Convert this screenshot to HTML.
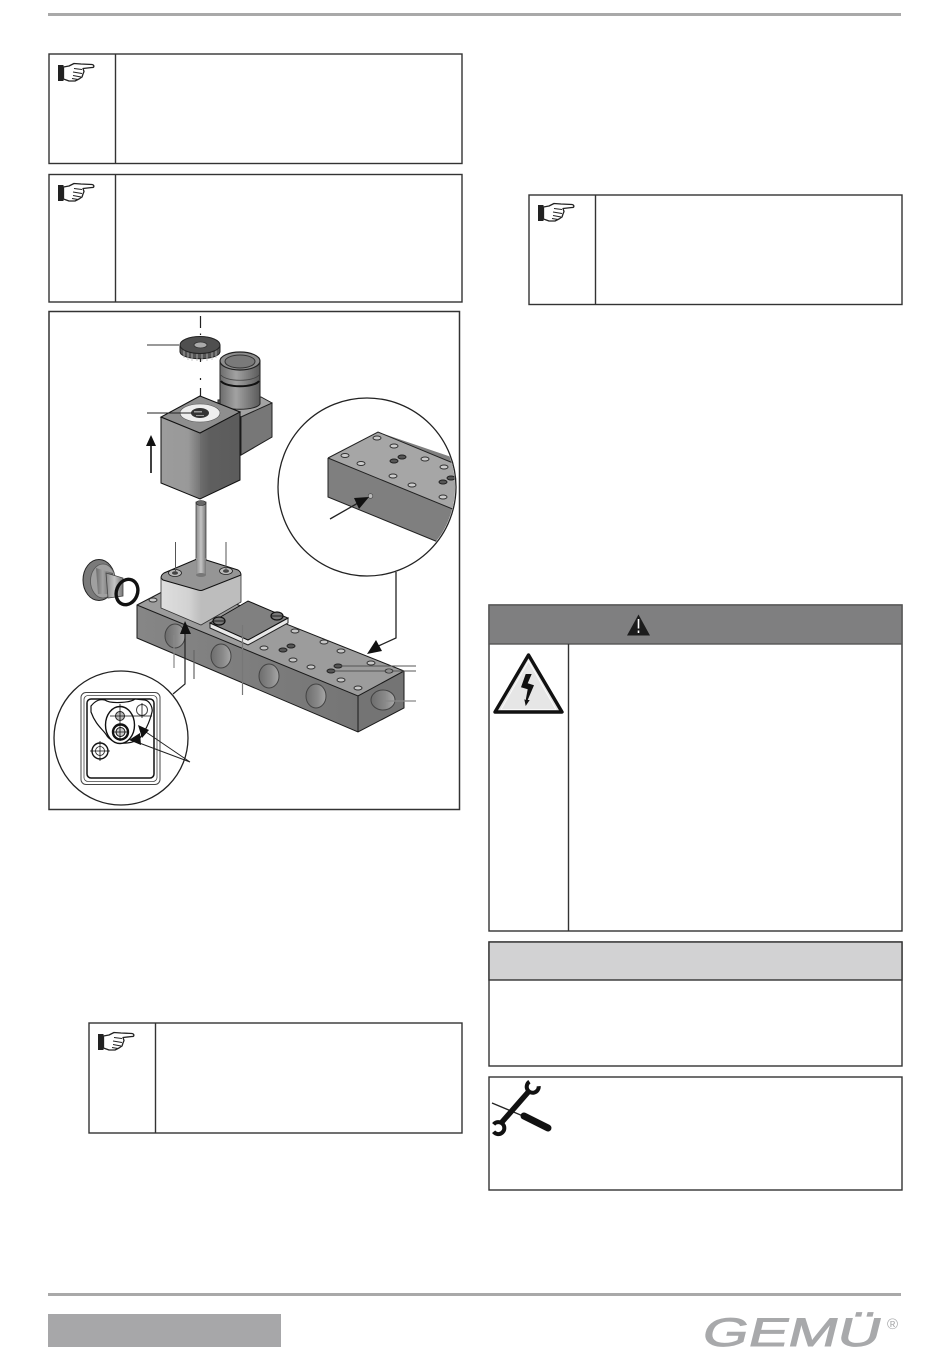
<!DOCTYPE html>
<html><head><meta charset="utf-8"><style>
html,body{margin:0;padding:0;background:#fff}
svg{display:block}
</style></head><body>
<svg xmlns="http://www.w3.org/2000/svg" width="950" height="1360" viewBox="0 0 950 1360">
<defs>
<linearGradient id="lf" x1="0" x2="1" y1="0" y2="0"><stop offset="0" stop-color="#9c9c9c"/><stop offset=".7" stop-color="#999"/><stop offset="1" stop-color="#767676"/></linearGradient>
<linearGradient id="rf" x1="0" x2="1" y1="0" y2="0"><stop offset="0" stop-color="#6e6e6e"/><stop offset=".25" stop-color="#5e5e5e"/><stop offset="1" stop-color="#5c5c5c"/></linearGradient>
<linearGradient id="cyl" x1="0" x2="1" y1="0" y2="0"><stop offset="0" stop-color="#6c6c6c"/><stop offset=".4" stop-color="#a2a2a2"/><stop offset="1" stop-color="#5a5a5a"/></linearGradient>
<linearGradient id="stem" x1="0" x2="1" y1="0" y2="0"><stop offset="0" stop-color="#8a8a8a"/><stop offset=".5" stop-color="#c4c4c4"/><stop offset="1" stop-color="#777"/></linearGradient>
<linearGradient id="lb" x1="0" x2="1" y1="0" y2="0"><stop offset="0" stop-color="#dedede"/><stop offset=".7" stop-color="#d2d2d2"/><stop offset="1" stop-color="#bdbdbd"/></linearGradient>
<linearGradient id="port" x1="0" x2="1" y1="0" y2="0"><stop offset="0" stop-color="#6d6d6d"/><stop offset=".6" stop-color="#8a8a8a"/><stop offset="1" stop-color="#a8a8a8"/></linearGradient>
<linearGradient id="side" x1="0" x2="1" y1="0" y2="0"><stop offset="0" stop-color="#868686"/><stop offset="1" stop-color="#757575"/></linearGradient>
<clipPath id="cu"><circle cx="367" cy="487" r="88"/></clipPath>
<g id="hand">
<path d="M11 16h5.500v16H11z" fill="#222"/>
<path d="M16.500 18L22 17L27 14.500L34 15L45 15.500C47.500 16 47.500 18.500 45 18.500L36 19.500L37 22.500L36 25L35 28L32 30L28 32L22 32L16.500 30Z" fill="#fff" stroke="#222" stroke-width="1.300" stroke-linejoin="round"/>
<path d="M27 19.500l8 1M26 23l9 1.500M26 26.500l8 1.500M25 29.500l6 1" stroke="#222" stroke-width="1" fill="none"/>
</g>
</defs>

<!-- page rules -->
<rect x="48" y="13" width="853" height="3" fill="#a9a9a9"/>
<rect x="48" y="1293" width="853" height="3" fill="#a9a9a9"/>
<rect x="48" y="1314" width="233" height="33" fill="#a7a7a9"/>

<!-- note boxes -->
<g fill="#fff" stroke="#333" stroke-width="1.400">
<rect x="49" y="54" width="413" height="109.500"/>
<path d="M115.500 54V163.500"/>
<rect x="49" y="174.500" width="413" height="127.500"/>
<path d="M115.500 174.500V302"/>
<rect x="529" y="195" width="373" height="109.500"/>
<path d="M595.500 195V304.500"/>
<rect x="89" y="1023" width="373" height="110"/>
<path d="M155.500 1023V1133"/>
</g>
<use href="#hand" x="47" y="49"/>
<use href="#hand" x="47" y="169"/>
<use href="#hand" x="527" y="189"/>
<use href="#hand" x="87" y="1018"/>

<!-- warning -->
<rect x="489" y="605" width="413" height="326" fill="#fff" stroke="#333" stroke-width="1.400"/>
<rect x="489" y="605" width="413" height="39" fill="#7f7f80" stroke="#555" stroke-width="1.400"/>
<path d="M568.500 644V931" stroke="#333" stroke-width="1.400"/>
<path d="M638.500 614.500L650 635.500H627Z" fill="#1c1c1c"/>
<path d="M638.500 619v9.500M638.500 630.500v2.500" stroke="#fff" stroke-width="1.600"/>
<path d="M528.500 655L562 712H495Z" fill="#e4e4e4" stroke="#111" stroke-width="3.400" stroke-linejoin="round"/>
<path d="M528.500 661L556 709.500H501Z" fill="#e6e6e6" stroke="#fff" stroke-width=".8"/>
<path d="M525.700 674L531.700 674L527.700 683.300L534 685.300L527.700 700L529.700 700L525.700 706L524.300 699.300L525.700 700L527.700 689.300L521 687.300Z" fill="#111"/>

<!-- note -->
<rect x="489" y="942" width="413" height="124" fill="#fff" stroke="#333" stroke-width="1.400"/>
<rect x="489" y="942" width="413" height="38" fill="#d2d2d3" stroke="#333" stroke-width="1.400"/>

<!-- tools -->
<rect x="489" y="1077" width="413" height="113" fill="#fff" stroke="#333" stroke-width="1.400"/>
<path d="M492 1103L523 1116" stroke="#222" stroke-width="1.300"/>
<path d="M524 1116L548 1128" stroke="#111" stroke-width="7" stroke-linecap="round"/>
<path d="M502 1122L530 1090" stroke="#111" stroke-width="5.500"/>
<path d="M537.500 1082.500A6 6 0 1 1 527.500 1085" transform="rotate(40 533 1086)" fill="none" stroke="#111" stroke-width="4"/>
<path d="M503 1128A6 6 0 1 1 500.500 1121" transform="rotate(200 498 1127)" fill="none" stroke="#111" stroke-width="4"/>

<!-- figure -->
<rect x="49" y="311.500" width="410.500" height="498" fill="#fff" stroke="#333" stroke-width="1.500"/>

<!-- center line -->
<path d="M200.500 316V328M200.500 333.500V335M200.500 357V362M200.500 378V380M200.500 388V396" stroke="#222" stroke-width="1.200" fill="none"/>

<!-- connector plug back block -->
<path d="M218 400L261 397L272 403V437L241 455L218 440Z" fill="#686868" stroke="#222" stroke-width="1"/>
<path d="M241 417L272 403L261 397L228 404Z" fill="#a4a4a4" stroke="#222" stroke-width=".8"/>
<path d="M241 417L272 403V437L241 455Z" fill="#777" stroke="#222" stroke-width="1"/>
<!-- plug cylinder -->
<path d="M220 361H260V404C256 411 224 411 220 404Z" fill="url(#cyl)" stroke="#222" stroke-width="1"/>
<path d="M221 381C226 388 254 388 259 381" fill="none" stroke="#111" stroke-width="2"/>
<path d="M221 375C226 382 254 382 259 375" fill="none" stroke="#444" stroke-width=".8"/>
<ellipse cx="240" cy="361" rx="20" ry="9" fill="#8d8d8d" stroke="#222" stroke-width="1.200"/>
<ellipse cx="240" cy="361.500" rx="15" ry="6.500" fill="#7a7a7a" stroke="#333" stroke-width="1"/>

<!-- knurled nut -->
<path d="M180 345V352C182 361 218 361 220 352V345Z" fill="#555" stroke="#222" stroke-width="1"/>
<path d="M184 350v8M188 352v8M192 352v9M197 353v8M202 353v8M207 353v8M212 352v8M216 350v8" stroke="#bbb" stroke-width=".8"/>
<ellipse cx="200" cy="345" rx="20" ry="8.500" fill="#4f4f4f" stroke="#222" stroke-width="1"/>
<ellipse cx="200.500" cy="345" rx="6.500" ry="3" fill="#aaa" stroke="#333" stroke-width=".8"/>

<!-- coil -->
<path d="M161 417L200 433V499L161 483Z" fill="url(#lf)"/>
<path d="M200 433L240 412V480L200 499Z" fill="url(#rf)"/>
<path d="M161 417V483L200 499L240 480V412" fill="none" stroke="#111" stroke-width="1"/>
<path d="M200 396L240 412L200 433L161 417Z" fill="#8e8e8e" stroke="#111" stroke-width="1.100"/>
<ellipse cx="200" cy="413" rx="20" ry="9" fill="#eee" stroke="#555" stroke-width=".6"/>
<ellipse cx="200" cy="413" rx="9" ry="5" fill="#333"/>
<path d="M194 411h8v1.500h-8zM196 415h8v1h-8z" fill="#999"/>

<!-- stem -->
<rect x="196" y="502" width="10" height="73" fill="url(#stem)" stroke="#444" stroke-width=".8"/>
<ellipse cx="201" cy="503" rx="5" ry="2.500" fill="#666" stroke="#222" stroke-width=".6"/>

<!-- manifold -->
<path d="M137 605L358 696V732L137 638Z" fill="url(#side)"/>
<path d="M358 696L404 671V708L358 732Z" fill="#747474"/>
<path d="M137 605L181 582L404 671L358 696Z" fill="#9c9c9c"/>
<path d="M137 605L181 582L404 671L404 708L358 732L137 638Z M137 605L358 696L404 671 M358 696V732" fill="none" stroke="#1a1a1a" stroke-width="1"/>
<g stroke="#444" stroke-width="1" fill="url(#port)">
<ellipse cx="175" cy="636" rx="10" ry="12"/>
<ellipse cx="221" cy="656" rx="10" ry="12"/>
<ellipse cx="269" cy="676" rx="10" ry="12"/>
<ellipse cx="316" cy="696" rx="10" ry="12"/>
<ellipse cx="383" cy="700" rx="12" ry="10"/>
</g>
<g fill="#c8c8c8" stroke="#333" stroke-width="1">
<ellipse cx="153" cy="600" rx="4" ry="2"/>
<ellipse cx="295" cy="631" rx="4" ry="2"/>
<ellipse cx="264" cy="648" rx="4" ry="2"/>
<ellipse cx="324" cy="642" rx="4" ry="2"/>
<ellipse cx="341" cy="651" rx="4" ry="2"/>
<ellipse cx="293" cy="660" rx="4" ry="2"/>
<ellipse cx="311" cy="667" rx="4" ry="2"/>
<ellipse cx="371" cy="663" rx="4" ry="2"/>
<ellipse cx="341" cy="680" rx="4" ry="2"/>
<ellipse cx="358" cy="688" rx="4" ry="2"/>
<ellipse cx="389" cy="671" rx="4" ry="2"/>
</g>
<g fill="#555" stroke="#222" stroke-width="1">
<ellipse cx="283" cy="650" rx="4" ry="2"/>
<ellipse cx="291" cy="646" rx="4" ry="2"/>
<ellipse cx="331" cy="671" rx="4" ry="2"/>
<ellipse cx="338" cy="666" rx="4" ry="2"/>
</g>

<!-- light block -->
<path d="M161 575L201 591V625L161 608Z" fill="url(#lb)"/>
<path d="M201 591L241 572V602L201 625Z" fill="#bdbdbd"/>
<path d="M161 578Q161 575 164 573L197 559Q200 558 203 559L238 570Q241 572 241 575L203 590Q201 591 198 590L163 580Z" fill="#959595" stroke="#111" stroke-width="1"/>
<path d="M161 578V608L201 625L241 602V575" fill="none" stroke="#333" stroke-width=".8"/>
<g stroke="#222" stroke-width=".8" fill="#bbb">
<ellipse cx="175" cy="573" rx="6.500" ry="3.500"/>
<ellipse cx="226" cy="571" rx="6.500" ry="3.500"/>
</g>
<ellipse cx="175" cy="573" rx="3" ry="1.800" fill="#444"/>
<ellipse cx="226" cy="571" rx="3" ry="1.800" fill="#444"/>
<rect x="196" y="558" width="10" height="17" fill="url(#stem)"/>
<ellipse cx="201" cy="575" rx="5" ry="2" fill="#777"/>

<!-- plate -->
<path d="M210 623L248 640L288 618V623L248 645L210 628Z" fill="#e8e8e8" stroke="#222" stroke-width="1"/>
<path d="M210 623L248 601L288 618L248 640Z" fill="#808080" stroke="#111" stroke-width="1"/>
<ellipse cx="219" cy="621" rx="6" ry="4" fill="#777" stroke="#111" stroke-width="1.200"/>
<ellipse cx="277" cy="616" rx="6" ry="4" fill="#777" stroke="#111" stroke-width="1.200"/>
<path d="M213 621h12M271 616h12" stroke="#222" stroke-width="1"/>

<!-- side plug and O-ring -->
<ellipse cx="99" cy="580" rx="16" ry="20.500" fill="#7a7a7a" stroke="#222" stroke-width="1"/>
<ellipse cx="103" cy="581" rx="12.500" ry="17" fill="#a0a0a0" stroke="#555" stroke-width=".8"/>
<path d="M96 568L113 573V594L98 594Z" fill="url(#cyl)"/>
<path d="M106 573L123 578V596L108 598Z" fill="url(#stem)" stroke="#444" stroke-width=".8"/>
<ellipse cx="127" cy="592" rx="10.500" ry="13" fill="none" stroke="#111" stroke-width="3.400" transform="rotate(22 127 592)"/>

<!-- upper inset -->
<circle cx="367" cy="487" r="89" fill="#fff" stroke="#222" stroke-width="1.300"/>
<g clip-path="url(#cu)">
<path d="M328 458L328 497L438 542L460 512V460L378 432Z" fill="#7f7f7f"/>
<path d="M328 458L378 432L470 470L455 510Z" fill="#a6a6a6"/>
<path d="M328 458L455 510M328 458L378 432L470 470M328 458V497L438 542" fill="none" stroke="#222" stroke-width="1"/>
<g fill="#ccc" stroke="#333" stroke-width="1">
<ellipse cx="377" cy="438" rx="4" ry="2"/>
<ellipse cx="394" cy="446" rx="4" ry="2"/>
<ellipse cx="345" cy="455.500" rx="4" ry="2"/>
<ellipse cx="361" cy="463.500" rx="4" ry="2"/>
<ellipse cx="425" cy="459" rx="4" ry="2"/>
<ellipse cx="444" cy="467" rx="4" ry="2"/>
<ellipse cx="393" cy="476" rx="4" ry="2"/>
<ellipse cx="412" cy="485" rx="4" ry="2"/>
<ellipse cx="443" cy="497" rx="4" ry="2"/>
</g>
<g fill="#555" stroke="#222" stroke-width="1">
<ellipse cx="402" cy="457" rx="4" ry="2"/>
<ellipse cx="394" cy="461" rx="4" ry="2"/>
<ellipse cx="443" cy="482" rx="4" ry="2"/>
<ellipse cx="451" cy="478" rx="4" ry="2"/>
</g>
</g>
<circle cx="370.500" cy="496" r="2.300" fill="#bbb" stroke="#444" stroke-width=".7"/>
<path d="M330 519L358 503" stroke="#222" stroke-width="1.300"/>
<path d="M369 497L354 498L359 509Z" fill="#111"/>

<!-- lower inset -->
<circle cx="121" cy="738" r="67" fill="#fff" stroke="#222" stroke-width="1.300"/>
<rect x="81" y="692.500" width="79" height="92" rx="5" fill="none" stroke="#444" stroke-width="1"/>
<rect x="84" y="695.500" width="73" height="86" rx="4" fill="none" stroke="#444" stroke-width=".8"/>
<rect x="87" y="699" width="67" height="79" rx="4" fill="none" stroke="#111" stroke-width="1.500"/>
<path d="M91 706C96 700 100 699 105 700C110 704 130 703 135 699L145 700C150 701 153 708 152 712C149 725 144 732 140 738C130 746 113 744 107 736C104 730 96 726 91 712Z" fill="#fff" stroke="#111" stroke-width="1.200"/>
<ellipse cx="120" cy="725" rx="14.500" ry="18.500" fill="#fff" stroke="#111" stroke-width="1.400"/>
<circle cx="120.500" cy="732" r="7.500" fill="#fff" stroke="#111" stroke-width="2.400"/>
<circle cx="120.500" cy="732" r="4.500" fill="#ccc" stroke="#111" stroke-width="1"/>
<circle cx="120" cy="716" r="4.500" fill="#bbb" stroke="#222" stroke-width="1"/>
<circle cx="142" cy="710" r="5.500" fill="#fff" stroke="#444" stroke-width="1"/>
<circle cx="100" cy="751" r="8" fill="#fff" stroke="#111" stroke-width="1.400"/>
<circle cx="100" cy="751" r="4.500" fill="none" stroke="#222" stroke-width=".8"/>
<path d="M120 704V741M110 716H152M142 703V718M113 732H128M90 751H110M100 741V761" stroke="#111" stroke-width=".8"/>

<!-- arrows and leaders -->
<path d="M151 473V442" stroke="#111" stroke-width="1.600"/>
<path d="M146 446L151 435L156 446Z" fill="#111"/>
<path d="M147 345H179" stroke="#333" stroke-width="1"/>
<path d="M147 413H192" stroke="#222" stroke-width="1"/>
<path d="M175.500 542V572M226 542V571" stroke="#555" stroke-width="1"/>
<path d="M174 635V668" stroke="#888" stroke-width="1.200"/>
<path d="M194 650V679" stroke="#666" stroke-width="1.200"/>
<path d="M242.500 625V695" stroke="#777" stroke-width="1.200"/>
<path d="M337 666H416M331 671H416" stroke="#555" stroke-width="1"/>
<path d="M383 701H416" stroke="#888" stroke-width="1.200"/>
<path d="M396 572V638L374 648" fill="none" stroke="#222" stroke-width="1.300"/>
<path d="M367 654L382 651L376 640Z" fill="#111"/>
<path d="M173 694L185 684V628" fill="none" stroke="#222" stroke-width="1.200"/>
<path d="M185 621L180 634H191Z" fill="#111"/>
<path d="M190 762L140 728M190 762L134 741" stroke="#222" stroke-width="1"/>
<path d="M138 725L142 738L149 730ZM129 740L140 733L141 745Z" fill="#111"/>

<!-- logo -->
<g transform="translate(700 1346) skewX(-14)">
<text x="0" y="0" font-family="Liberation Sans, sans-serif" font-size="40" fill="#a8a9ab" stroke="#a8a9ab" stroke-width=".9" textLength="178" lengthAdjust="spacingAndGlyphs">GEMÜ</text>
</g>
<text x="887" y="1329" font-family="Liberation Sans, sans-serif" font-size="15" fill="#a8a9ab">®</text>
</svg>
</body></html>
